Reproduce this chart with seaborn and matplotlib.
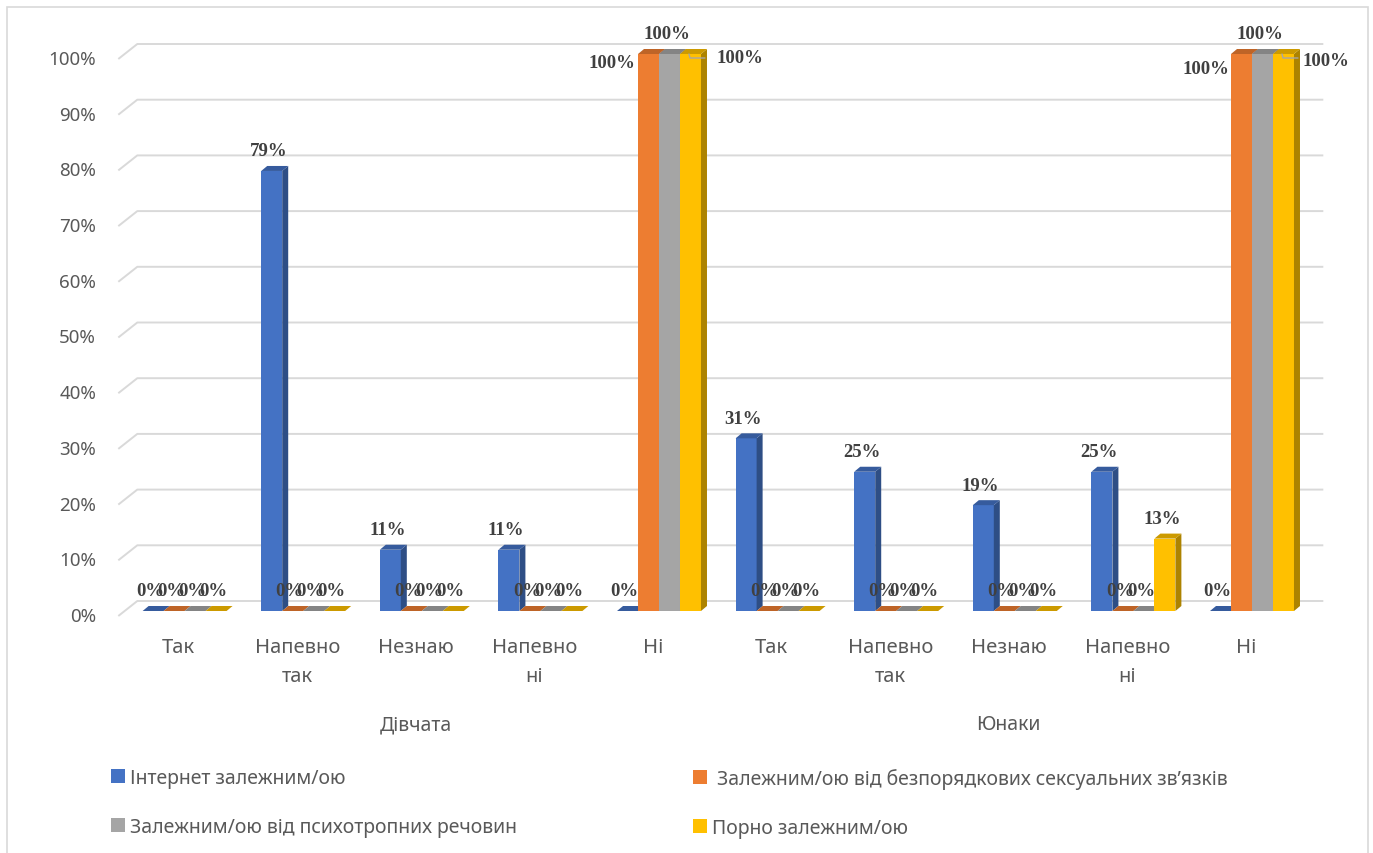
import numpy as np
import pandas as pd
import matplotlib
matplotlib.use("Agg")
import matplotlib.pyplot as plt
import matplotlib.transforms as mtransforms
from matplotlib.patches import Polygon, Patch, Rectangle
from matplotlib.colors import to_rgb
import seaborn as sns

# ---- data -------------------------------------------------------------
groups = ["Дівчата", "Юнаки"]
answers = ["Так", "Напевно так", "Незнаю", "Напевно ні", "Ні"]
series = [
    "Інтернет залежним/ою",
    " Залежним/ою від безпорядкових сексуальних зв’язків",
    "Залежним/ою від психотропних речовин",
    "Порно залежним/ою",
]

girls_internet = [0, 79, 11, 11, 0]
girls_promiscuity = [0, 0, 0, 0, 100]
girls_psychotropic = [0, 0, 0, 0, 100]
girls_porn = [0, 0, 0, 0, 100]

boys_internet = [31, 25, 19, 25, 0]
boys_promiscuity = [0, 0, 0, 0, 100]
boys_psychotropic = [0, 0, 0, 0, 100]
boys_porn = [0, 0, 0, 13, 100]

y_ticks = list(range(0, 101, 10))

colors = ["#4472C4", "#ED7D31", "#A5A5A5", "#FFC000"]
TEXT = "#595959"
LABEL_TEXT = "#404040"
GRID = "#d9d9d9"

values = {
    "Дівчата": [girls_internet, girls_promiscuity, girls_psychotropic, girls_porn],
    "Юнаки": [boys_internet, boys_promiscuity, boys_psychotropic, boys_porn],
}
rows = []
for g in groups:
    for s, vals in zip(series, values[g]):
        for a, v in zip(answers, vals):
            rows.append({"key": f"{g} | {a}", "series": s, "value": v})
df = pd.DataFrame(rows)
order = [f"{g} | {a}" for g in groups for a in answers]

# ---- styling ----------------------------------------------------------
sns.set_theme(style="white")
plt.rcParams["font.family"] = ["Noto Sans", "DejaVu Sans"]

W, H, DPI = 1373, 854, 100
fig = plt.figure(figsize=(W / DPI, H / DPI), dpi=DPI)
fig.patch.set_facecolor("white")
ax = fig.add_axes([125.3 / W, 1 - 612 / H, 1186 / W, 557 / H])

sns.barplot(
    data=df, x="key", y="value", hue="series",
    order=order, hue_order=series, palette=colors,
    width=0.708, saturation=1, errorbar=None, legend=False,
    linewidth=0, ax=ax,
)
ax.set_xlim(-0.5, len(order) - 0.5)
ax.set_ylim(0, 100)
ax.set_yticks(y_ticks)
ax.set_xlabel("")
ax.set_ylabel("")
ax.tick_params(length=0, labelbottom=False, labelleft=False)
sns.despine(ax=ax, left=True, bottom=True)
ax.patch.set_alpha(0)

# pixel <-> data conversion for the pseudo-3D depth
bbox = ax.get_position()
px_per_x = bbox.width * W / (ax.get_xlim()[1] - ax.get_xlim()[0])
px_per_y = bbox.height * H / (ax.get_ylim()[1] - ax.get_ylim()[0])


def dx(p):
    return p / px_per_x


def dy(p):
    return p / px_per_y


# back-wall gridlines with a slanted floor edge
x_lo, x_hi = ax.get_xlim()
for v in ax.get_yticks():
    ax.plot(
        [x_lo + dx(-7), x_lo + dx(12), x_hi + dx(12)],
        [v + dy(-5), v + dy(10), v + dy(10)],
        color=GRID, lw=1.4, zorder=0.5, clip_on=False, solid_capstyle="butt",
    )

# extruded side and top faces for each bar
DEPTH_X, DEPTH_Y = 6, 5
n_series = len(series)
bars = []
for j, cont in enumerate(ax.containers):
    base = np.array(to_rgb(colors[j]))
    top_c = base * 0.80
    side_c = base * 0.68
    for rect in cont.patches:
        x0, w, h = rect.get_x(), rect.get_width(), rect.get_height()
        cat = int(round(x0 + w / 2))
        rank = cat * n_series + j
        z = 3 + rank * 0.01
        rect.set_zorder(z)
        ox, oy = dx(DEPTH_X), dy(DEPTH_Y)
        ax.add_patch(Polygon(
            [(x0 + w, 0), (x0 + w, h), (x0 + w + ox, h + oy), (x0 + w + ox, oy)],
            closed=True, fc=side_c, lw=0, zorder=z + 0.005, clip_on=False,
        ))
        ax.add_patch(Polygon(
            [(x0, h), (x0 + w, h), (x0 + w + ox, h + oy), (x0 + ox, h + oy)],
            closed=True, fc=top_c, lw=0, zorder=z + 0.005, clip_on=False,
        ))
        bars.append((cat, j, rect))

# data labels: (group, answer, series) -> (anchor, dx px, dy px)
LABEL_LAYOUT = {
    (0, 4, 1): ("right", -3, -9),
    (1, 4, 1): ("right", -2, -15),
    (0, 4, 3): ("left", 16, -4),
    (1, 4, 3): ("left", 9, -7),
}
for cat, j, rect in bars:
    gi, ai = divmod(cat, len(answers))
    x0, w, h = rect.get_x(), rect.get_width(), rect.get_height()
    ha, ddx, ddy = LABEL_LAYOUT.get((gi, ai, j), ("center", -3, 20))
    xref = {"center": x0 + w / 2, "right": x0, "left": x0 + w}[ha]
    ax.text(
        xref + dx(ddx), h + dy(ddy), f"{h:.0f}%",
        ha=ha, va="center", fontsize=13.5, fontweight="bold",
        family=["Liberation Serif", "DejaVu Serif"], color=LABEL_TEXT,
        zorder=10, clip_on=False,
    )
    if ha == "left":
        xr = x0 + w
        ax.plot(
            [xr + dx(-12), xr + dx(-11), xr + dx(4)],
            [h, h + dy(-4), h + dy(-4)],
            color="#a6a6a6", lw=1, zorder=10, clip_on=False,
        )

# y tick labels at the front floor edge
ytr = ax.get_yaxis_transform() + mtransforms.ScaledTranslation(
    -29.3 / DPI, -5 / DPI, fig.dpi_scale_trans)
for v in ax.get_yticks():
    ax.text(0, v, f"{v:.0f}%", transform=ytr, ha="right", va="center",
            fontsize=13.5, color=TEXT)

# category labels and group labels
cat_tr = ax.get_xaxis_transform() + mtransforms.ScaledTranslation(
    -6 / DPI, -26 / DPI, fig.dpi_scale_trans)
for idx, key in enumerate(order):
    answer = key.split(" | ")[1]
    ax.text(idx, 0, answer.replace(" ", "\n"), transform=cat_tr,
            ha="center", va="top", multialignment="center",
            linespacing=1.6, fontsize=14.5, color=TEXT)

grp_tr = ax.get_xaxis_transform() + mtransforms.ScaledTranslation(
    -6 / DPI, -113 / DPI, fig.dpi_scale_trans)
for gi, g in enumerate(groups):
    center = gi * len(answers) + (len(answers) - 1) / 2
    ax.text(center, 0, g, transform=grp_tr, ha="center", va="center",
            fontsize=14, color=TEXT)

# legend in two columns
handles = [Patch(facecolor=c, edgecolor="none") for c in colors]
leg_kw = dict(
    loc="upper left", frameon=False, borderpad=0, borderaxespad=0,
    handlelength=0.72, handleheight=0.72, handletextpad=0.28,
    labelspacing=1.48, fontsize=14, labelcolor=TEXT,
)
fig.legend([handles[0], handles[2]], [series[0], series[2]],
           bbox_to_anchor=(111 / W, 1 - 769 / H), **leg_kw)
fig.legend([handles[1], handles[3]], [series[1], series[3]],
           bbox_to_anchor=(693 / W, 1 - 769 / H), **leg_kw)

# chart area border
fig.add_artist(Rectangle(
    (7 / W, -0.05), (1368 - 7) / W, (1 - 8 / H) + 0.05,
    transform=fig.transFigure, fill=False, ec=GRID, lw=1.2,
))

fig.savefig("out.png", dpi=DPI, facecolor="white")
